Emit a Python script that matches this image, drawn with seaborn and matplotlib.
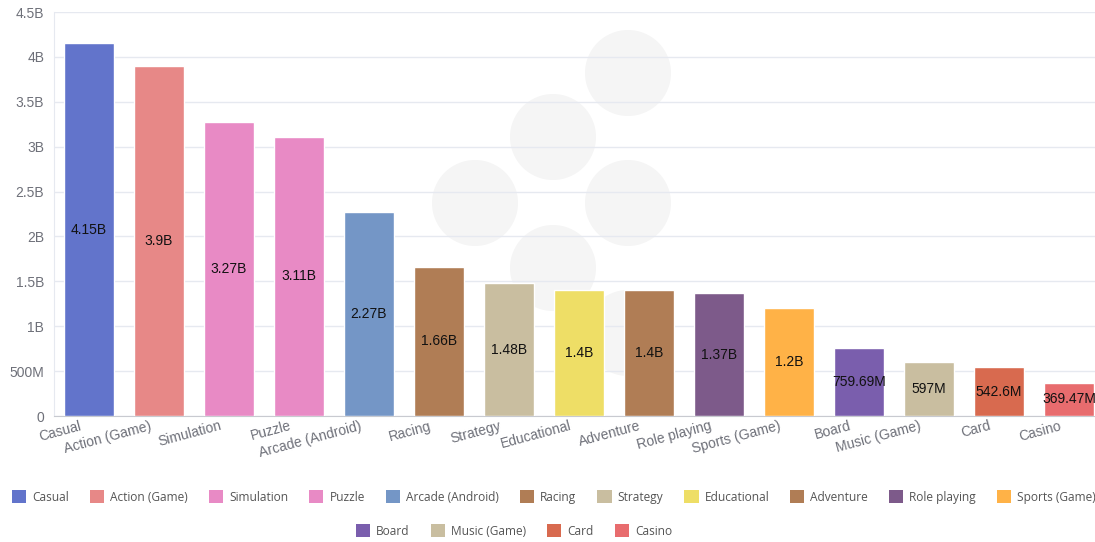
import matplotlib
matplotlib.use("Agg")
import matplotlib.pyplot as plt
import matplotlib.transforms as mtransforms
from matplotlib.patches import Patch, Circle
import seaborn as sns
import pandas as pd

categories = ["Casual", "Action (Game)", "Simulation", "Puzzle", "Arcade (Android)",
              "Racing", "Strategy", "Educational", "Adventure", "Role playing",
              "Sports (Game)", "Board", "Music (Game)", "Card", "Casino"]
values = [4.15e9, 3.9e9, 3.27e9, 3.11e9, 2.27e9, 1.66e9, 1.48e9, 1.4e9, 1.4e9,
          1.37e9, 1.2e9, 759.69e6, 597e6, 542.6e6, 369.47e6]
value_labels = ["4.15B", "3.9B", "3.27B", "3.11B", "2.27B", "1.66B", "1.48B", "1.4B",
                "1.4B", "1.37B", "1.2B", "759.69M", "597M", "542.6M", "369.47M"]
colors = ["#6274CB", "#E78887", "#E88AC5", "#E88AC5", "#7496C6", "#B07D55",
          "#C9BEA0", "#EEDE66", "#B07D55", "#7D5A8A", "#FFB247", "#7A5EAD",
          "#C9BEA0", "#D86A4F", "#E86C6E"]
yticks = [0, 0.5e9, 1e9, 1.5e9, 2e9, 2.5e9, 3e9, 3.5e9, 4e9, 4.5e9]
ytick_labels = ["0", "500M", "1B", "1.5B", "2B", "2.5B", "3B", "3.5B", "4B", "4.5B"]

df = pd.DataFrame({"category": categories, "value": values})

sns.set_style("white")
plt.rcParams["font.family"] = ["Liberation Sans", "DejaVu Sans"]

W, H = 1095, 542
fig = plt.figure(figsize=(W / 100, H / 100), dpi=100)

# faint watermark (decorative logo behind the plot)
wm = [(475, 203), (553, 137), (628, 73), (628, 203), (553, 268), (628, 333)]
for (cx, cy) in wm:
    fig.patches.append(Circle((cx / 100, (H - cy) / 100), 0.43, transform=fig.dpi_scale_trans,
                              facecolor="#F5F5F5", edgecolor="none", zorder=-1))

ax_left, ax_right, ax_top, ax_bottom = 54, 1104, 12, 416
ax = fig.add_axes([ax_left / W, 1 - ax_bottom / H, (ax_right - ax_left) / W, (ax_bottom - ax_top) / H])
ax.set_zorder(1)
ax.patch.set_alpha(0)

sns.barplot(data=df, x="category", y="value", hue="category", palette=colors,
            width=0.71, legend=False, ax=ax, saturation=1, zorder=3)

ax.set_ylim(0, 4.5e9)
ax.set_xlim(-0.5, len(categories) - 0.5)
ax.set_yticks(yticks)
ax.set_yticklabels(ytick_labels)
ax.grid(axis="y", color="#E6E9F0", linewidth=1, zorder=0)
ax.set_axisbelow(True)
ax.set_xlabel("")
ax.set_ylabel("")
for s in ["top", "right"]:
    ax.spines[s].set_visible(False)
ax.spines["left"].set_color("#E6E9F0")
ax.spines["bottom"].set_color("#C8CAD0")
ax.tick_params(axis="y", labelcolor="#6E7079", labelsize=10, length=5, width=1, pad=2, color="#E6E9F0")
ax.tick_params(axis="x", length=0, labelsize=10, labelcolor="#6E7079", pad=2)

ax.set_xticks(range(len(categories)))
ax.set_xticklabels(categories, rotation=15, ha="right", rotation_mode="anchor")
for lab in ax.get_xticklabels():
    lab.set_transform(lab.get_transform() + mtransforms.ScaledTranslation(-10 / 100, 0, fig.dpi_scale_trans))

for i, (v, t) in enumerate(zip(values, value_labels)):
    ax.text(i, v / 2, t, ha="center", va="center", fontsize=10, color="#111111", zorder=5)

# legends
handles = [Patch(facecolor=c, edgecolor="none") for c in colors]
leg_font = {"family": ["Open Sans", "DejaVu Sans"], "size": 8.6}
common = dict(loc="center", frameon=False, prop=leg_font, handlelength=1.2, handleheight=1.2,
              handletextpad=0.5, columnspacing=1.75, labelcolor="#555555")
leg1 = fig.legend(handles[:11], categories[:11], bbox_to_anchor=(554 / W, 1 - 497 / H),
                  ncol=11, **common)
leg2 = fig.legend(handles[11:], categories[11:], bbox_to_anchor=(514 / W, 1 - 531 / H),
                  ncol=4, **common)

fig.savefig("out.png", dpi=100)
